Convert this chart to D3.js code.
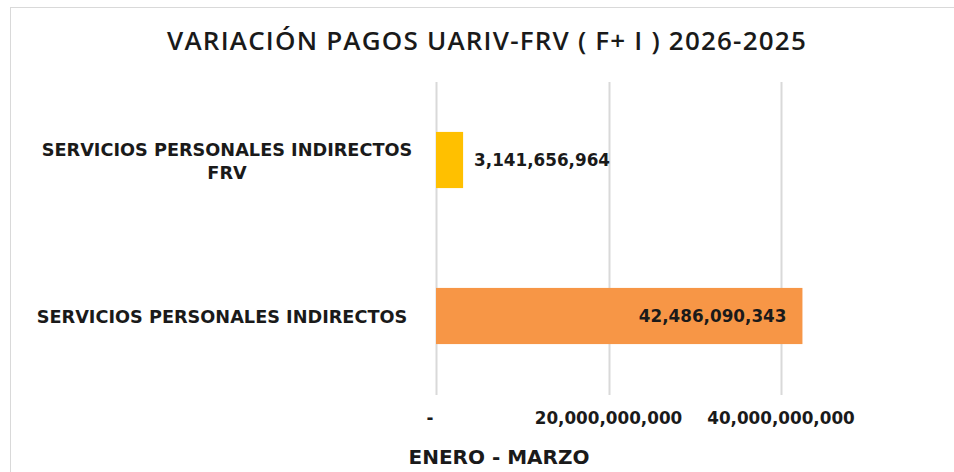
<!DOCTYPE html>
<html>
<head>
<meta charset="utf-8">
<script src="https://cdn.jsdelivr.net/npm/d3@7"></script>
<style>
  body { margin: 0; background: #fff; }
  text { font-family: "DejaVu Sans", sans-serif; fill: #1a1a1a; }
  .title { font-family: "Open Sans", sans-serif; }
</style>
</head>
<body>
<svg id="chart" width="954" height="472"></svg>
<script>
  const chartTitle = "VARIACIÓN PAGOS UARIV-FRV ( F+ I ) 2026-2025";
  const categories = [
    ["SERVICIOS PERSONALES INDIRECTOS", "FRV"],
    ["SERVICIOS PERSONALES INDIRECTOS"]
  ];
  const values = [3141656964, 42486090343];
  const barColors = ["#FFC000", "#F79646"];
  const tickValues = [0, 20000000000, 40000000000];
  const axisTitle = "ENERO - MARZO";

  const svg = d3.select("#chart");
  const fmt = d3.format(",");

  // frame
  svg.append("rect")
    .attr("x", 10.5).attr("y", 7.5)
    .attr("width", 960).attr("height", 480)
    .attr("fill", "#fff").attr("stroke", "#d9d9d9");

  const x = d3.scaleLinear().domain([0, 60000000000]).range([436, 436 + 172.5 * 3]);
  const y = d3.scaleBand().domain(d3.range(values.length)).range([82, 394]).paddingInner(0.64).paddingOuter(0.32);

  // gridlines
  svg.append("g").selectAll("line")
    .data(tickValues)
    .join("line")
    .attr("x1", d => Math.round(x(d)) + 0.5)
    .attr("x2", d => Math.round(x(d)) + 0.5)
    .attr("y1", 82).attr("y2", 395)
    .attr("stroke", "#d9d9d9").attr("stroke-width", 2);

  // bars
  svg.append("g").selectAll("rect")
    .data(values)
    .join("rect")
    .attr("x", x(0))
    .attr("y", (d, i) => y(i))
    .attr("width", d => x(d) - x(0))
    .attr("height", y.bandwidth())
    .attr("fill", (d, i) => barColors[i]);

  // value labels
  svg.append("g").selectAll("text")
    .data(values)
    .join("text")
    .attr("x", (d, i) => i === 0 ? x(d) + 11 : x(d) - 16)
    .attr("y", (d, i) => y(i) + y.bandwidth() / 2 + 6)
    .attr("text-anchor", (d, i) => i === 0 ? "start" : "end")
    .attr("font-size", 16.8).attr("font-weight", 700)
    .text(d => fmt(d));

  // category labels
  const cat = svg.append("g").selectAll("text")
    .data(categories)
    .join("text")
    .attr("x", (d, i) => i === 0 ? 227 : 222)
    .attr("y", (d, i) => y(i) + y.bandwidth() / 2 + 7 - (d.length - 1) * 11.5)
    .attr("text-anchor", "middle")
    .attr("font-size", 17.7).attr("font-weight", 700);
  cat.selectAll("tspan")
    .data(d => d)
    .join("tspan")
    .attr("x", function () { return this.parentNode.getAttribute("x"); })
    .attr("dy", (d, i) => i === 0 ? 0 : 23)
    .text(d => d);

  // tick labels
  svg.append("g").selectAll("text")
    .data(tickValues)
    .join("text")
    .attr("x", d => d === 0 ? x(d) - 6 : x(d))
    .attr("y", 424)
    .attr("text-anchor", "middle")
    .attr("font-size", 16.8).attr("font-weight", 700)
    .text(d => d === 0 ? "-" : fmt(d));

  // axis title
  svg.append("text")
    .attr("x", 499).attr("y", 464)
    .attr("text-anchor", "middle")
    .attr("font-size", 20).attr("font-weight", 700)
    .text(axisTitle);

  // chart title
  svg.append("text")
    .attr("class", "title")
    .attr("x", 487).attr("y", 50)
    .attr("text-anchor", "middle")
    .attr("font-size", 26).attr("font-weight", 600)
    .attr("letter-spacing", 1.2)
    .text(chartTitle);
</script>
</body>
</html>
